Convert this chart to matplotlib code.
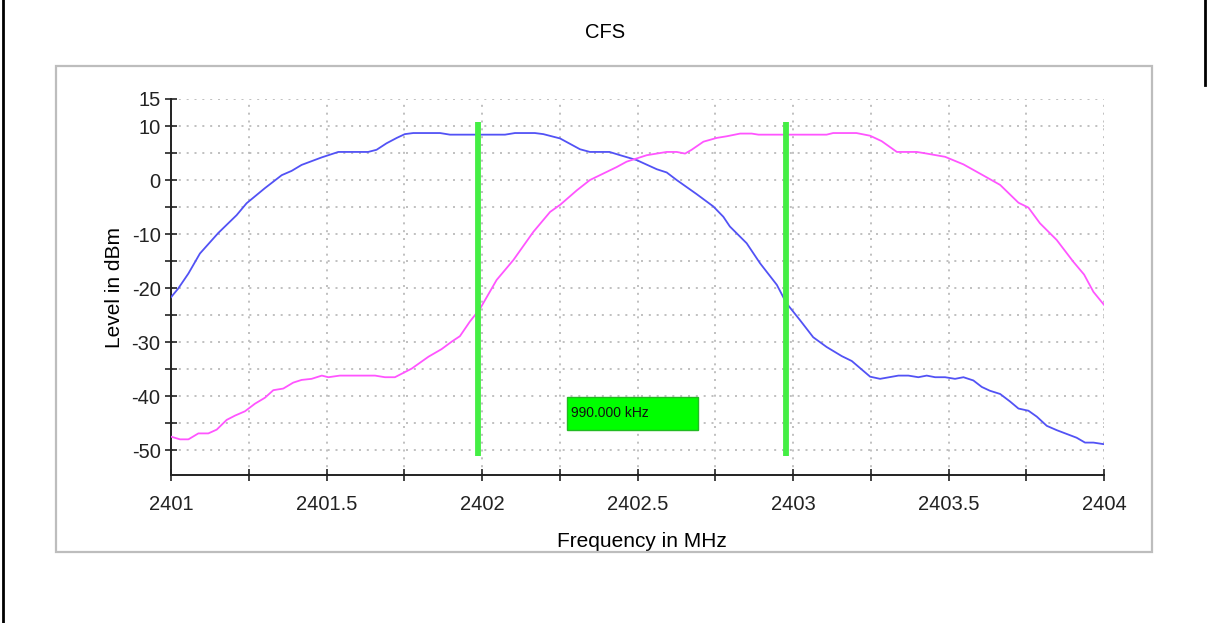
import matplotlib
matplotlib.use("Agg")
import matplotlib.pyplot as plt
from matplotlib.lines import Line2D
from matplotlib.patches import Rectangle

plt.rcParams["font.family"] = ["Liberation Sans", "DejaVu Sans"]

TITLE = "CFS"
X_LABEL = "Frequency in MHz"
Y_LABEL = "Level in dBm"

# trace 1 (blue)
BLUE_FREQ = [
    2401.000, 2401.023, 2401.056, 2401.093, 2401.152, 2401.211, 2401.243, 2401.302,
    2401.356, 2401.388, 2401.420, 2401.485, 2401.538, 2401.634, 2401.661, 2401.693,
    2401.726, 2401.752, 2401.779, 2401.865, 2401.897, 2402.074, 2402.106, 2402.170,
    2402.197, 2402.251, 2402.315, 2402.347, 2402.410, 2402.444, 2402.497, 2402.562,
    2402.594, 2402.626, 2402.690, 2402.744, 2402.776, 2402.797, 2402.851, 2402.894,
    2402.948, 2402.979, 2403.022, 2403.065, 2403.108, 2403.157, 2403.189, 2403.248,
    2403.280, 2403.339, 2403.371, 2403.403, 2403.430, 2403.457, 2403.489, 2403.521,
    2403.548, 2403.580, 2403.607, 2403.633, 2403.666, 2403.698, 2403.725, 2403.757,
    2403.784, 2403.816, 2403.848, 2403.880, 2403.912, 2403.939, 2403.966, 2404.000,
]
BLUE_LEVEL = [
    -21.7, -20.1, -17.3, -13.6, -9.8, -6.5, -4.3, -1.5,
    0.9, 1.7, 2.8, 4.2, 5.2, 5.2, 5.6, 6.8,
    7.8, 8.5, 8.7, 8.7, 8.4, 8.4, 8.7, 8.7,
    8.5, 7.7, 5.7, 5.2, 5.2, 4.6, 3.7, 2.0,
    1.4, 0.0, -2.6, -4.9, -6.8, -8.6, -11.7, -15.4,
    -19.4, -22.8, -25.9, -29.1, -30.9, -32.6, -33.5, -36.4,
    -36.8, -36.2, -36.2, -36.5, -36.2, -36.5, -36.5, -36.8,
    -36.5, -37.1, -38.3, -39.0, -39.6, -41.0, -42.3, -42.7,
    -43.8, -45.5, -46.3, -47.0, -47.7, -48.6, -48.6, -48.9,
]

# trace 2 (magenta)
PINK_FREQ = [
    2401.000, 2401.029, 2401.056, 2401.088, 2401.120, 2401.147, 2401.179, 2401.206,
    2401.238, 2401.270, 2401.302, 2401.329, 2401.361, 2401.393, 2401.420, 2401.452,
    2401.485, 2401.506, 2401.543, 2401.656, 2401.688, 2401.720, 2401.774, 2401.828,
    2401.870, 2401.903, 2401.929, 2401.961, 2401.994, 2402.047, 2402.101, 2402.165,
    2402.219, 2402.251, 2402.305, 2402.347, 2402.390, 2402.433, 2402.465, 2402.530,
    2402.594, 2402.626, 2402.653, 2402.674, 2402.712, 2402.755, 2402.787, 2402.830,
    2402.867, 2402.889, 2403.108, 2403.129, 2403.204, 2403.248, 2403.285, 2403.334,
    2403.398, 2403.430, 2403.489, 2403.548, 2403.601, 2403.666, 2403.725, 2403.757,
    2403.794, 2403.848, 2403.901, 2403.936, 2403.966, 2404.000,
]
PINK_LEVEL = [
    -47.5, -48.0, -48.0, -46.9, -46.9, -46.2, -44.4, -43.6,
    -42.8, -41.4, -40.3, -38.9, -38.6, -37.5, -37.0, -36.8,
    -36.2, -36.5, -36.2, -36.2, -36.5, -36.5, -34.9, -32.7,
    -31.3, -29.9, -28.9, -26.2, -23.8, -18.5, -14.8, -9.6,
    -5.9, -4.6, -1.9, 0.0, 1.2, 2.4, 3.4, 4.6,
    5.2, 5.2, 4.9, 5.6, 7.1, 7.8, 8.1, 8.6,
    8.6, 8.4, 8.4, 8.7, 8.7, 8.2, 7.2, 5.2,
    5.2, 4.9, 4.3, 2.9, 1.2, -0.9, -4.2, -5.1,
    -8.0, -11.1, -15.1, -17.5, -20.7, -23.1,
]

# markers (lower / upper) and bandwidth readout
MARKER_FREQ = [2401.988, 2402.978]
MARKER_SPAN = [-51.0, 10.7]
READOUT_TEXT = "990.000 kHz"
READOUT_X = [2402.274, 2402.694]
READOUT_Y = [-46.2, -40.1]

X_TICKS = [2401 + 0.25 * i for i in range(13)]
X_TICK_LABELS = ["2401", "", "2401.5", "", "2402", "", "2402.5", "", "2403", "", "2403.5", "", "2404"]
Y_TICKS = [-50, -45, -40, -35, -30, -25, -20, -15, -10, -5, 0, 5, 10, 15]
Y_TICK_LABELS = ["-50", "", "-40", "", "-30", "", "-20", "", "-10", "", "0", "", "10", "15"]

W, H = 1208, 623


def main() -> None:
    fig = plt.figure(figsize=(W / 100, H / 100), dpi=100)
    fig.patch.set_facecolor("white")
    ax = fig.add_axes([171 / W, 1 - 475 / H, 933 / W, 376 / H])

    # outer panel and page borders
    fig.add_artist(Rectangle((56 / W, 1 - 552 / H), 1096 / W, 486 / H, transform=fig.transFigure,
                             fill=False, ec="#bdbdbd", lw=1.6))
    fig.add_artist(Line2D([3 / W, 3 / W], [0, 1], transform=fig.transFigure, color="black", lw=2))
    fig.add_artist(Line2D([1205 / W, 1205 / W], [1, 1 - 85 / H], transform=fig.transFigure, color="black", lw=2))

    ax.plot(BLUE_FREQ, BLUE_LEVEL, color="#5252f5", lw=1.3, zorder=3)
    ax.plot(PINK_FREQ, PINK_LEVEL, color="#ff55ff", lw=1.3, zorder=3)

    for f in MARKER_FREQ:
        ax.plot([f, f], MARKER_SPAN, color="#44ee44", lw=4.2, solid_capstyle="butt", zorder=4)

    ax.add_patch(Rectangle((READOUT_X[0], READOUT_Y[0]), READOUT_X[1] - READOUT_X[0], READOUT_Y[1] - READOUT_Y[0],
                           fc="#00ff00", ec="#22bb22", lw=1.0, zorder=5))
    ax.text(READOUT_X[0] + 0.012, (READOUT_Y[0] + READOUT_Y[1]) / 2, READOUT_TEXT,
            fontsize=10, va="center", ha="left", color="#111111", zorder=6)

    ax.set_xlim(2401, 2404)
    ax.set_ylim(-54.6, 15)
    ax.set_xticks(X_TICKS)
    ax.set_xticklabels(X_TICK_LABELS)
    ax.set_yticks(Y_TICKS)
    ax.set_yticklabels(Y_TICK_LABELS)
    ax.tick_params(axis="both", direction="inout", length=9, width=1.2, labelsize=14.5, colors="#222222")
    ax.tick_params(axis="x", pad=10)
    ax.tick_params(axis="y", pad=3)

    for side in ["top", "right"]:
        ax.spines[side].set_visible(False)
    for side in ["left", "bottom"]:
        ax.spines[side].set_linewidth(1.4)
        ax.spines[side].set_color("#222222")

    ax.grid(True, color="#b5b5b5", linestyle=(0, (1.2, 3.5)), lw=1.2)
    ax.set_axisbelow(True)

    ax.set_xlabel(X_LABEL, fontsize=15)
    ax.xaxis.set_label_coords(0.505, -0.152)
    ax.set_ylabel(Y_LABEL, fontsize=15)
    ax.yaxis.set_label_coords(-0.05, 0.5)

    fig.text(605 / W, 1 - 33 / H, TITLE, fontsize=14.5, ha="center", va="center")

    fig.savefig("out.png", dpi=100)
    plt.close(fig)


if __name__ == "__main__":
    main()
